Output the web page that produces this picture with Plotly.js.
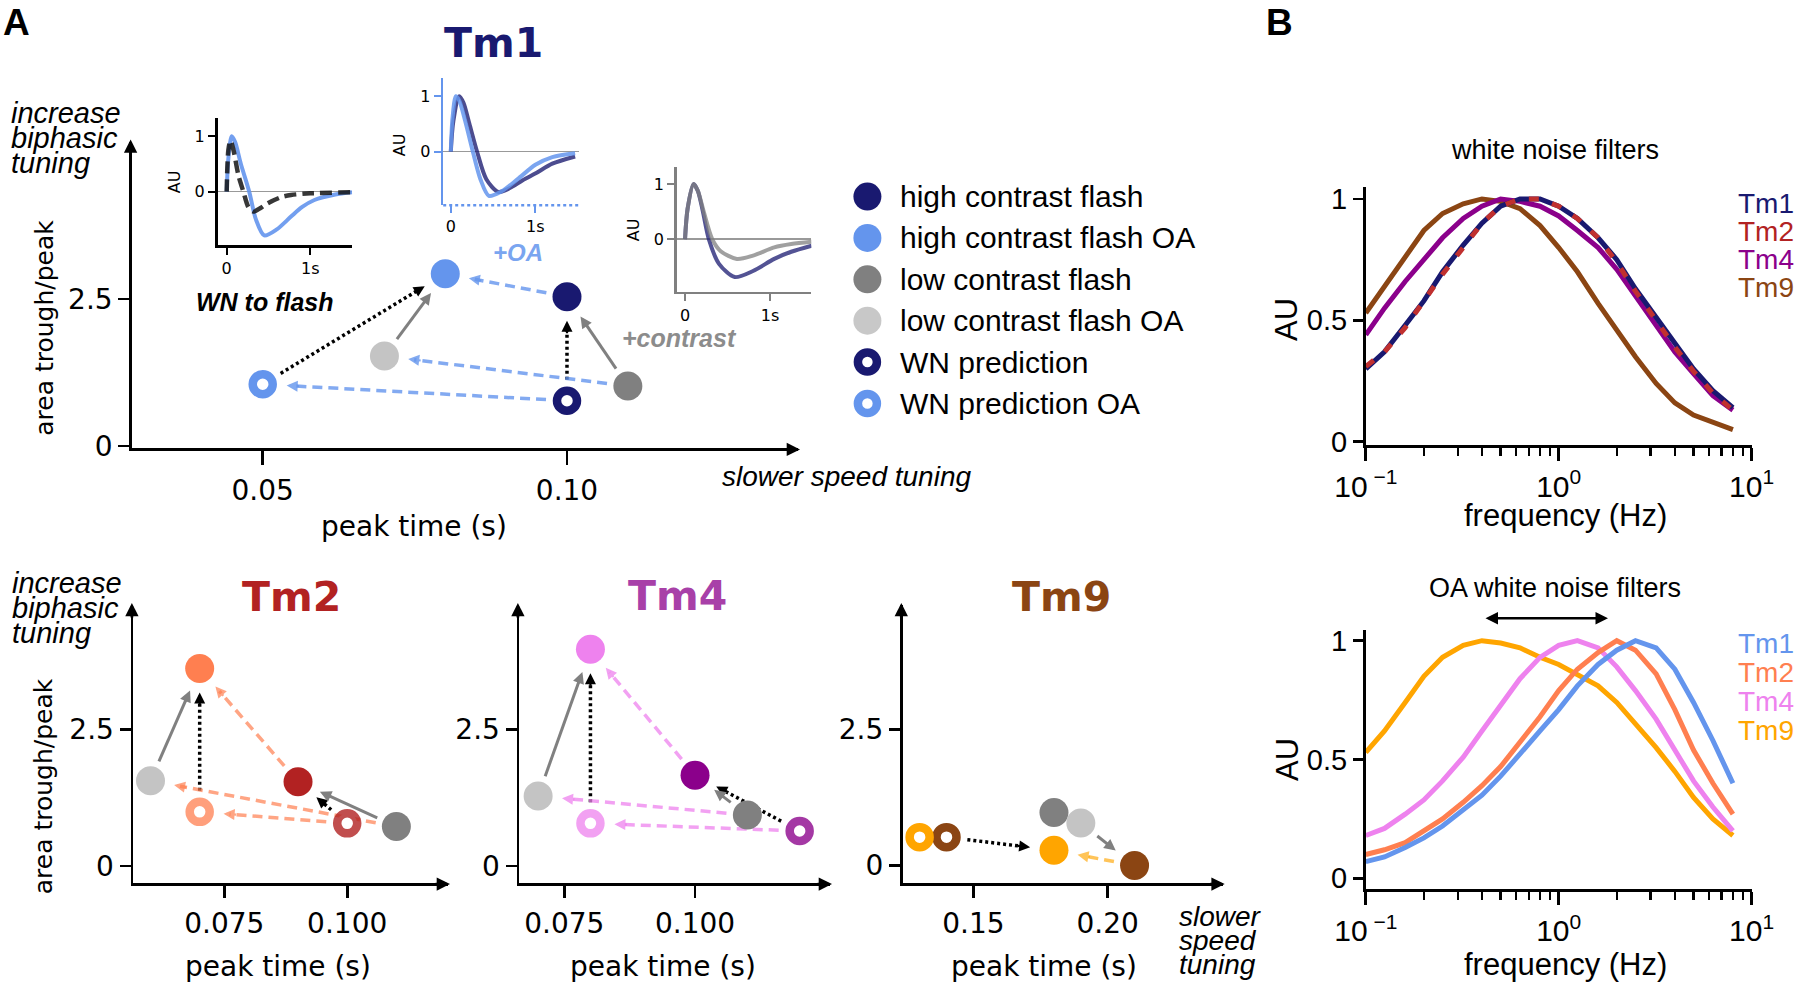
<!DOCTYPE html>
<html>
<head>
<meta charset="utf-8">
<script src="https://cdn.plot.ly/plotly-3.0.1.min.js"></script>
<style>html,body{margin:0;padding:0;background:#fff;}#chart{width:1800px;height:988px;}</style>
</head>
<body>
<div id="chart"></div>
<script>
// ================= DATA =================
const conditions = ['high contrast flash','high contrast flash OA','low contrast flash','low contrast flash OA','WN prediction','WN prediction OA'];

// peak time (s) and area trough/peak, order as in `conditions`
const tm1PeakTime = [0.10, 0.08, 0.11, 0.07, 0.10, 0.05];
const tm1Ratio    = [2.54, 2.93, 1.02, 1.53, 0.77, 1.05];
const tm2PeakTime = [0.09, 0.07, 0.11, 0.06, 0.10, 0.07];
const tm2Ratio    = [1.54, 3.61, 0.72, 1.56, 0.78, 0.99];
const tm4PeakTime = [0.10, 0.08, 0.11, 0.07, 0.12, 0.08];
const tm4Ratio    = [1.66, 3.96, 0.93, 1.28, 0.64, 0.78];
const tm9PeakTime = [0.21, 0.18, 0.18, 0.19, 0.14, 0.13];
const tm9Ratio    = [0.00, 0.28, 0.97, 0.78, 0.52, 0.52];

// arrows: [from condition index, to condition index, style]
const tm1Arrows = [[5,1,'dot'],[4,0,'dot'],[3,1,'solid'],[2,0,'solid'],[0,1,'dash'],[2,3,'dash'],[4,5,'dash']];
const tm2Arrows = [[3,1,'solid'],[5,1,'dot'],[0,1,'dash'],[2,3,'dash'],[4,5,'dash'],[4,0,'dot'],[2,0,'solid']];
const tm4Arrows = [[3,1,'solid'],[5,1,'dot'],[0,1,'dash'],[2,3,'dash'],[4,5,'dash'],[4,0,'dot'],[2,0,'solid']];
const tm9Arrows = [[4,1,'dot'],[3,0,'solid'],[0,1,'dash']];

// inset: WN to flash (time s, AU)
const wnFlashT    = [0,0.02,0.06,0.1,0.17,0.27,0.35,0.45,0.6,0.77,0.9,1.05,1.3,1.5];
const wnFlashOA   = [0,0.6,1.0,0.9,0.5,0,-0.5,-0.79,-0.68,-0.45,-0.28,-0.15,-0.05,-0.01];
const wnPredT     = [0,0.02,0.045,0.08,0.14,0.2,0.26,0.32,0.4,0.49,0.65,0.77,1.0,1.5];
const wnPredOA    = [0,0.75,0.92,0.76,0.3,0,-0.28,-0.36,-0.3,-0.21,-0.1,-0.06,-0.03,-0.01];
// inset: +OA
const oaT         = [0,0.02,0.06,0.1,0.17,0.26,0.35,0.45,0.6,0.79,1.0,1.2,1.47];
const oaHighOA    = [0,0.6,1.0,0.92,0.55,0,-0.5,-0.8,-0.72,-0.5,-0.24,-0.1,-0.03];
const oaT2        = [0,0.03,0.1,0.15,0.22,0.31,0.42,0.56,0.7,0.85,1.01,1.2,1.47];
const oaHigh      = [0,0.55,1.0,0.88,0.5,0,-0.5,-0.73,-0.66,-0.52,-0.39,-0.22,-0.09];
// inset: +contrast
const conT        = [0,0.03,0.1,0.15,0.22,0.32,0.42,0.61,0.8,1.05,1.25,1.49];
const conLow      = [0,0.55,1.0,0.88,0.5,0,-0.22,-0.36,-0.3,-0.15,-0.09,-0.05];
const conT2       = [0,0.03,0.1,0.15,0.21,0.28,0.4,0.585,0.8,1.05,1.25,1.49];
const conHigh     = [0,0.55,1.0,0.88,0.5,0,-0.45,-0.69,-0.58,-0.36,-0.23,-0.12];

// panel B: frequency responses
const freq   = [0.1,0.125,0.16,0.2,0.25,0.32,0.4,0.5,0.63,0.8,1.0,1.25,1.6,2.0,2.5,3.2,4.0,5.0,6.3,8.0];
const wnTm1  = [0.30,0.37,0.48,0.58,0.70,0.81,0.90,0.97,1.00,1.00,0.97,0.92,0.84,0.75,0.63,0.51,0.40,0.30,0.21,0.14];
const wnTm2  = [0.31,0.37,0.47,0.58,0.69,0.80,0.90,0.97,1.00,1.00,0.97,0.92,0.84,0.74,0.62,0.50,0.39,0.29,0.20,0.13];
const wnTm4  = [0.44,0.55,0.66,0.75,0.84,0.92,0.97,1.00,0.99,0.97,0.93,0.87,0.80,0.71,0.60,0.48,0.37,0.28,0.19,0.13];
const wnTm9  = [0.53,0.64,0.76,0.87,0.94,0.98,1.00,0.99,0.96,0.89,0.80,0.70,0.57,0.46,0.35,0.24,0.16,0.11,0.08,0.05];
const oaTm1  = [0.07,0.09,0.13,0.17,0.22,0.29,0.35,0.43,0.52,0.62,0.71,0.81,0.90,0.96,1.00,0.97,0.88,0.74,0.58,0.40];
const oaTm2  = [0.10,0.12,0.15,0.20,0.25,0.32,0.39,0.47,0.57,0.68,0.79,0.88,0.95,1.00,0.96,0.86,0.71,0.54,0.40,0.27];
const oaTm4  = [0.18,0.21,0.27,0.33,0.41,0.51,0.62,0.73,0.84,0.93,0.98,1.00,0.97,0.89,0.79,0.67,0.54,0.41,0.30,0.20];
const oaTm9  = [0.53,0.62,0.74,0.85,0.93,0.98,1.00,0.99,0.97,0.93,0.90,0.86,0.81,0.74,0.65,0.55,0.45,0.34,0.25,0.18];

// tick labels
const tm1XTicks = [0.05, 0.10],   tm1XTickText = ['0.05','0.10'];
const tm24XTicks = [0.075, 0.100], tm24XTickText = ['0.075','0.100'];
const tm9XTicks = [0.15, 0.20],   tm9XTickText = ['0.15','0.20'];
const ratioTicks = [0, 2.5],      ratioTickText = ['0','2.5'];
const insetXTicks = [0, 1],       insetXTickText = ['0','1s'];
const insetYTicks = [0, 1],       insetYTickText = ['0','1'];
const freqTicks = [0.1, 1, 10],   freqTickText = ['10<sup> −1</sup>','10<sup>0</sup>','10<sup>1</sup>'];
const freqMinor = [0.2,0.3,0.4,0.5,0.6,0.7,0.8,0.9,2,3,4,5,6,7,8,9];
const auTicks = [0, 0.5, 1],      auTickText = ['0','0.5','1'];
const cellTypes = ['Tm1','Tm2','Tm4','Tm9'];

// ================= STYLE / LAYOUT =================
const W = 1800, H = 988;
const SANS = '"Liberation Sans", Arial, sans-serif';
const DJV = '"DejaVu Sans", Verdana, sans-serif';
const xd = (a,b) => [a/W, b/W];
const yd = (top,bot) => [1-bot/H, 1-top/H];

const panels = {
  tm1: {xa:'x',  ya:'y',  X:[132,798],    Y:[141.5,448], xr:[0.02852,0.13796], yr:[-0.034,5.179], tl:14, so:2},
  tm2: {xa:'x5', ya:'y5', X:[133.3,448],  Y:[605,882.7], xr:[0.0565,0.1205],   yr:[-0.305,4.77], tl:12, so:2},
  tm4: {xa:'x6', ya:'y6', X:[519.3,830],  Y:[605,882.7], xr:[0.0664,0.1258],   yr:[-0.305,4.77], tl:12, so:2},
  tm9: {xa:'x7', ya:'y7', X:[902.7,1222.7],Y:[605,882.7], xr:[0.1237,0.2428],  yr:[-0.316,4.78], tl:12, so:2},
};
function px(p,x){return p.X[0]+(x-p.xr[0])/(p.xr[1]-p.xr[0])*(p.X[1]-p.X[0]);}
function py(p,y){return p.Y[1]-(y-p.yr[0])/(p.yr[1]-p.yr[0])*(p.Y[1]-p.Y[0]);}
function dx(p,X){return p.xr[0]+(X-p.X[0])/(p.X[1]-p.X[0])*(p.xr[1]-p.xr[0]);}
function dy(p,Y){return p.yr[0]+(p.Y[1]-Y)/(p.Y[1]-p.Y[0])*(p.yr[1]-p.yr[0]);}

const traces = [];
const annotations = [];
const shapes = [];

const arrowStyles = {
  solid: {color:'#808080', width:3, dash:'solid', head:2.3},
  dot:   {color:'#000000', width:3.5, dash:'3px,3px', head:2.2},
  dash:  {color:null, width:3.5, dash:'10px,6px', head:2.2}
};

function markerStyle(colors, n, fillSize, ringSize){
  const idx = Array.from({length:n}, (_,k)=>k);
  return {
    color: idx.map(k=>k>=4?'#ffffff':colors[k]),
    size: idx.map(k=>k>=4?ringSize:fillSize),
    opacity: 1,
    line: {color: idx.map(k=>k>=4?colors[k]:'rgba(0,0,0,0)'), width: idx.map(k=>k>=4?8.5:0)}
  };
}

function panelTraces(p, xs, ys, arrows, colors, dashColor){
  arrows.forEach(([i,j,st]) => {
    const x0=px(p,xs[i]), y0=py(p,ys[i]), x1=px(p,xs[j]), y1=py(p,ys[j]);
    const L=Math.hypot(x1-x0,y1-y0), ux=(x1-x0)/L, uy=(y1-y0)/L;
    const g0=21, g1=24;
    const sx=x0+ux*g0, sy=y0+uy*g0, ex=x1-ux*g1, ey=y1-uy*g1;
    const s=arrowStyles[st];
    const color = st==='dash' ? dashColor : s.color;
    traces.push({type:'scatter', mode:'lines', xaxis:p.xa, yaxis:p.ya,
      x:[dx(p,sx), dx(p,ex-ux*6)], y:[dy(p,sy), dy(p,ey-uy*6)],
      line:{color:color, width:s.width, dash:s.dash}, hoverinfo:'skip', showlegend:false, cliponaxis:false});
    annotations.push({xref:'paper', yref:'paper', x:ex/W, y:1-ey/H, ax:-ux*14, ay:-uy*14,
      showarrow:true, text:'', arrowhead:2, arrowsize:1, arrowwidth:s.head, arrowcolor:color});
  });
  traces.push({type:'scatter', mode:'markers', xaxis:p.xa, yaxis:p.ya, x:xs, y:ys,
    marker:markerStyle(colors, xs.length, 29, 20), opacity:1,
    hoverinfo:'skip', showlegend:false, cliponaxis:false});
}

panelTraces(panels.tm1, tm1PeakTime, tm1Ratio, tm1Arrows,
  ['#191970','#6495ed','#808080','#c4c4c4','#191970','#6495ed'], 'rgba(100,149,237,0.8)');
panelTraces(panels.tm2, tm2PeakTime, tm2Ratio, tm2Arrows,
  ['#b22222','#ff7f50','#808080','#c4c4c4','rgba(178,34,34,0.8)','rgba(255,127,80,0.75)'], 'rgba(255,127,80,0.7)');
panelTraces(panels.tm4, tm4PeakTime, tm4Ratio, tm4Arrows,
  ['#8b008b','#ee82ee','#808080','#c4c4c4','rgba(139,0,139,0.78)','rgba(238,130,238,0.75)'], 'rgba(238,130,238,0.75)');
panelTraces(panels.tm9, tm9PeakTime, tm9Ratio, tm9Arrows,
  ['#8b4513','#ffa500','#808080','#c4c4c4','#8b4513','#ffa500'], 'rgba(255,165,0,0.65)');

// insets
function curve(xa,ya,x,y,color,width,dash){
  traces.push({type:'scatter', mode:'lines', xaxis:xa, yaxis:ya, x:x, y:y,
    line:{color:color, width:width, dash:dash||'solid', shape:'spline', smoothing:0.8},
    hoverinfo:'skip', showlegend:false, cliponaxis:false});
}
curve('x2','y2', wnFlashT, wnFlashOA, 'rgba(100,149,237,0.9)', 4);
curve('x2','y2', wnPredT, wnPredOA, 'rgba(20,20,20,0.85)', 4.5, '12px,6px');
curve('x3','y3', oaT2, oaHigh, 'rgba(25,25,112,0.78)', 4);
curve('x3','y3', oaT, oaHighOA, 'rgba(100,149,237,0.85)', 4);
curve('x4','y4', conT2, conHigh, 'rgba(25,25,112,0.75)', 4);
curve('x4','y4', conT, conLow, 'rgba(128,128,128,0.75)', 4);

// panel B
function fcurve(xa,ya,y,color,dash){
  traces.push({type:'scatter', mode:'lines', xaxis:xa, yaxis:ya, x:freq, y:y,
    line:{color:color, width:5, dash:dash||'solid'}, hoverinfo:'skip', showlegend:false});
}
fcurve('x8','y8', wnTm9, '#8b4513');
fcurve('x8','y8', wnTm4, '#8b008b');
fcurve('x8','y8', wnTm1, '#191970');
fcurve('x8','y8', wnTm2, '#c0302f', '10px,14px');
fcurve('x9','y9', oaTm9, '#ffa500');
fcurve('x9','y9', oaTm4, '#ee82ee');
fcurve('x9','y9', oaTm2, '#ff7f50');
fcurve('x9','y9', oaTm1, '#6495ed');

// legend panel A
const legendColors = ['#191970','#6495ed','#808080','#c8c8c8','#191970','#6495ed'];
traces.push({type:'scatter', mode:'markers', xaxis:'x10', yaxis:'y10',
  x:conditions.map(()=>17.4), y:conditions.map((_,i)=>i),
  marker:markerStyle(legendColors, conditions.length, 28, 19), opacity:1,
  hoverinfo:'skip', showlegend:false, cliponaxis:false});
conditions.forEach((c,i)=>annotations.push({xref:'x10', yref:'y10', x:48.4, y:i, text:c, showarrow:false,
  xanchor:'left', yanchor:'middle', font:{family:SANS, size:30, color:'#000'}}));

// text helper
function T(text, X, Y, font, extra){
  annotations.push(Object.assign({text:text, xref:'paper', yref:'paper', x:X/W, y:1-Y/H, showarrow:false,
    xanchor:'center', yanchor:'middle', font:font}, extra||{}));
}
T('<b>A</b>', 16, 23, {family:SANS, size:37, color:'#000'});
T('<b>B</b>', 1279, 23, {family:SANS, size:37, color:'#000'});
T('<b>Tm1</b>', 493, 43, {family:DJV, size:41, color:'#191970'});
T('<b>Tm2</b>', 291.7, 597, {family:DJV, size:41, color:'#b22222'});
T('<b>Tm4</b>', 677.5, 596, {family:DJV, size:41, color:'#a840a8'});
T('<b>Tm9</b>', 1061.7, 597, {family:DJV, size:41, color:'#8b4513'});
['increase','biphasic','tuning'].forEach((w,i)=>{
  T('<i>'+w+'</i>', 9.3, 113+25*i, {family:SANS, size:29, color:'#000'}, {xanchor:'left'});
  T('<i>'+w+'</i>', 10, 583.3+25*i, {family:SANS, size:29, color:'#000'}, {xanchor:'left'});
});
T('area trough/peak', 43.8, 328, {family:DJV, size:25, color:'#000'}, {textangle:-90});
T('area trough/peak', 43.3, 786, {family:DJV, size:25, color:'#000'}, {textangle:-90});
T('peak time (s)', 414, 526, {family:DJV, size:28, color:'#000'});
T('peak time (s)', 278.3, 966.7, {family:DJV, size:28, color:'#000'});
T('peak time (s)', 663.3, 966.7, {family:DJV, size:28, color:'#000'});
T('peak time (s)', 1044, 966.7, {family:DJV, size:28, color:'#000'});
T('<i>slower speed tuning</i>', 846, 476.7, {family:SANS, size:28, color:'#000'});
['slower','speed','tuning'].forEach((w,i)=>T('<i>'+w+'</i>', 1176.7, 916.7+24*i, {family:SANS, size:28, color:'#000'}, {xanchor:'left'}));
T('<b><i>WN to flash</i></b>', 265, 302, {family:SANS, size:25, color:'#000'});
T('<b><i>+OA</i></b>', 518, 252, {family:SANS, size:24, color:'#7aa5f0'});
T('<b><i>+contrast</i></b>', 679.6, 338, {family:SANS, size:25, color:'#8c8c8c'});
T('AU', 174.2, 182, {family:DJV, size:16, color:'#000'}, {textangle:-90});
T('AU', 400.3, 145, {family:DJV, size:16, color:'#000'}, {textangle:-90});
T('AU', 633.2, 230, {family:DJV, size:16, color:'#000'}, {textangle:-90});
T('white noise filters', 1555, 150, {family:SANS, size:27, color:'#000'});
T('OA white noise filters', 1555, 588, {family:SANS, size:27, color:'#000'});
T('frequency (Hz)', 1565.7, 515, {family:SANS, size:31, color:'#000'});
T('frequency (Hz)', 1565.7, 964, {family:SANS, size:31, color:'#000'});
T('AU', 1287, 320, {family:SANS, size:31, color:'#000'}, {textangle:-90});
T('AU', 1287, 760, {family:SANS, size:31, color:'#000'}, {textangle:-90});
const wnCellColors = ['#191970','#b22222','#8b008b','#8b4513'];
const oaCellColors = ['#6495ed','#ff7f50','#ee82ee','#ffa500'];
cellTypes.forEach((c,i)=>{
  T(c, 1736, 203+28.3*i, {family:SANS, size:28, color:wnCellColors[i]}, {xanchor:'left'});
  T(c, 1736, 643+29*i, {family:SANS, size:28, color:oaCellColors[i]}, {xanchor:'left'});
});
// double arrow in OA panel
annotations.push({xref:'paper', yref:'paper', x:1608/W, y:1-618.3/H, axref:'paper', ayref:'paper', ax:1484/W, ay:1-618.3/H,
  showarrow:true, text:'', arrowhead:2, arrowside:'end+start', arrowsize:1, arrowwidth:2.5, arrowcolor:'#000'});

// axis arrowheads for scatter panels
Object.values(panels).forEach(p=>{
  annotations.push({xref:'paper', yref:'paper', x:(p.X[1]+2)/W, y:1-(p.Y[1]+1.4)/H, ax:-16, ay:0, showarrow:true, text:'',
    arrowhead:2, arrowsize:0.95, arrowwidth:2.8, arrowcolor:'#000'});
  annotations.push({xref:'paper', yref:'paper', x:(p.X[0]-1.4)/W, y:1-(p.Y[0]-2)/H, ax:0, ay:16, showarrow:true, text:'',
    arrowhead:2, arrowsize:0.95, arrowwidth:2.8, arrowcolor:'#000'});
});

// dotted x axis of +OA inset
shapes.push({type:'line', xref:'x3 domain', yref:'y3 domain', x0:0, x1:1, y0:0, y1:0,
  line:{color:'#6495ed', width:2.5, dash:'dot'}});

const base = {showgrid:false, zeroline:false, showline:true, linecolor:'#000', linewidth:2.8, ticks:'outside',
  tickcolor:'#000', tickwidth:2.8, ticklen:12, tickfont:{family:DJV, size:28, color:'#000'}, fixedrange:true, tickmode:'array'};
const inset = {showgrid:false, zeroline:false, showline:true, linecolor:'#000', linewidth:2.5, ticks:'outside',
  tickcolor:'#000', tickwidth:2, ticklen:7, tickfont:{family:DJV, size:16, color:'#000'}, fixedrange:true, tickmode:'array'};
const bax = {showgrid:false, zeroline:false, showline:true, linecolor:'#000', linewidth:2.8, ticks:'outside',
  tickcolor:'#000', tickwidth:2.8, ticklen:10, tickfont:{family:SANS, size:29, color:'#000'}, fixedrange:true, tickmode:'array'};

function scatterAxes(p, xt, xtt){
  return [
    Object.assign({}, base, {domain:xd(p.X[0],p.X[1]), range:p.xr, anchor:p.ya, tickvals:xt, ticktext:xtt, ticklen:p.tl, ticklabelstandoff:p.so}),
    Object.assign({}, base, {domain:yd(p.Y[0],p.Y[1]), range:p.yr, anchor:p.xa, tickvals:ratioTicks, ticktext:ratioTickText, ticklen:11, ticklabelstandoff:0})
  ];
}
const [ax1,ay1] = scatterAxes(panels.tm1,tm1XTicks,tm1XTickText);
const [ax5,ay5] = scatterAxes(panels.tm2,tm24XTicks,tm24XTickText);
const [ax6,ay6] = scatterAxes(panels.tm4,tm24XTicks,tm24XTickText);
const [ax7,ay7] = scatterAxes(panels.tm9,tm9XTicks,tm9XTickText);

const freqAxis = (dom, anchor) => Object.assign({}, bax, {type:'log', domain:dom, range:[-1,1], anchor:anchor,
  tickvals:freqTicks, ticktext:freqTickText, ticklen:13, ticklabelstandoff:0, tickfont:{family:SANS, size:30, color:'#000'},
  minor:{tickmode:'array', tickvals:freqMinor, ticks:'outside', ticklen:8, tickwidth:2.5, tickcolor:'#000', showgrid:false}});

const layout = {
  width:W, height:H, margin:{l:0,r:0,t:0,b:0}, paper_bgcolor:'#fff', plot_bgcolor:'rgba(0,0,0,0)', showlegend:false,
  xaxis:ax1, yaxis:ay1, xaxis5:ax5, yaxis5:ay5, xaxis6:ax6, yaxis6:ay6, xaxis7:ax7, yaxis7:ay7,
  xaxis2:Object.assign({}, inset, {domain:xd(217.5,352.4), range:[-0.11,1.505], anchor:'y2', tickvals:insetXTicks, ticktext:insetXTickText}),
  yaxis2:Object.assign({}, inset, {domain:yd(118,245.4), range:[-0.97,1.33], anchor:'x2', tickvals:insetYTicks, ticktext:insetYTickText,
    zeroline:true, zerolinecolor:'#999', zerolinewidth:1.5}),
  xaxis3:Object.assign({}, inset, {domain:xd(443.2,578.5), range:[-0.09,1.51], anchor:'y3', showline:false, tickcolor:'#6495ed',
    tickvals:insetXTicks, ticktext:insetXTickText}),
  yaxis3:Object.assign({}, inset, {domain:yd(77.9,205.2), range:[-0.97,1.33], anchor:'x3', linecolor:'#6495ed', tickcolor:'#6495ed',
    tickvals:insetYTicks, ticktext:insetYTickText, zeroline:true, zerolinecolor:'#999', zerolinewidth:1.5}),
  xaxis4:Object.assign({}, inset, {domain:xd(676.7,811.4), range:[-0.098,1.487], anchor:'y4', linecolor:'#808080', tickcolor:'#808080',
    tickvals:insetXTicks, ticktext:insetXTickText}),
  yaxis4:Object.assign({}, inset, {domain:yd(166.5,291.9), range:[-0.96,1.32], anchor:'x4', linecolor:'#808080', tickcolor:'#808080',
    tickvals:insetYTicks, ticktext:insetYTickText, zeroline:true, zerolinecolor:'#999', zerolinewidth:1.5}),
  xaxis8:freqAxis(xd(1365.8,1751.6), 'y8'),
  yaxis8:Object.assign({}, bax, {domain:yd(187.3,445), range:[-0.0136,1.048], anchor:'x8', tickvals:auTicks, ticktext:auTickText}),
  xaxis9:freqAxis(xd(1365.8,1751.6), 'y9'),
  yaxis9:Object.assign({}, bax, {domain:yd(630,889.3), range:[-0.0463,1.045], anchor:'x9', tickvals:auTicks, ticktext:auTickText}),
  xaxis10:{domain:xd(850,1250), range:[0,400], anchor:'y10', visible:false, fixedrange:true},
  yaxis10:{domain:yd(180,420), range:[5.4,-0.4], anchor:'x10', visible:false, fixedrange:true},
  annotations:annotations, shapes:shapes
};

Plotly.newPlot('chart', traces, layout, {displayModeBar:false, staticPlot:true});
</script>
</body>
</html>
